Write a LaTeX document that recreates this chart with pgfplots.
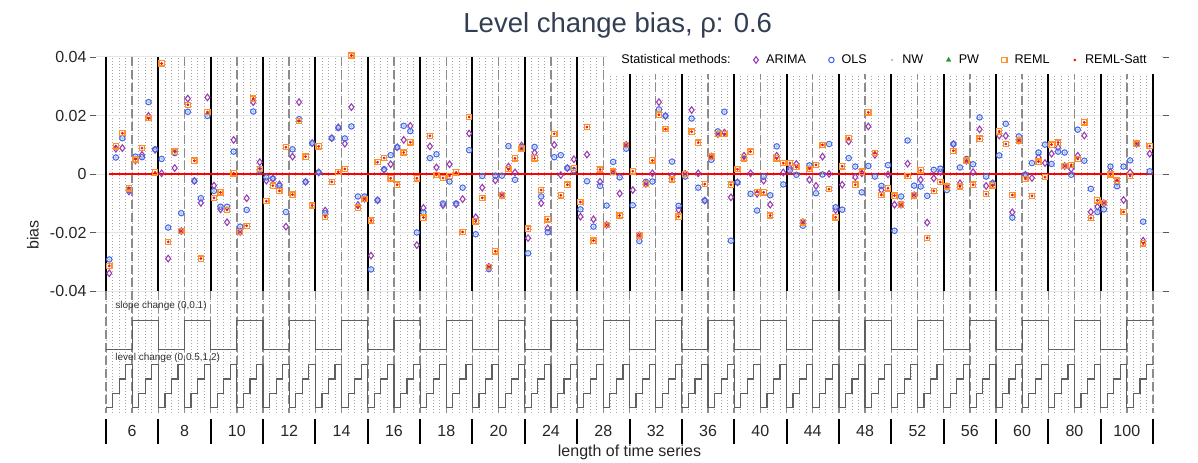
\documentclass[border=0pt]{standalone}
\usepackage{pgfplots}
\pgfplotsset{compat=1.18}
\usepackage{pgfplotstable}
\usepackage{fontspec}
\setmainfont{Liberation Sans}

\definecolor{cArima}{RGB}{155,60,180}
\definecolor{cOls}{RGB}{75,105,235}
\definecolor{cNw}{RGB}{160,200,235}
\definecolor{cPw}{RGB}{40,150,40}
\definecolor{cReml}{RGB}{255,145,40}
\definecolor{cSatt}{RGB}{235,25,25}
\definecolor{cDash}{RGB}{140,140,140}
\definecolor{cStep}{RGB}{95,95,95}
\definecolor{cTitle}{RGB}{50,62,82}

% x = scenario index, sc = slope change, lc = level change
\pgfplotstableread{
x sc lc arima ols reml
0 0 0 -0.0338 -0.0291 -0.0313
1 0 0.5 0.0087 0.0057 0.0095
2 0 1 0.0089 0.0123 0.0140
3 0 2 -0.0059 -0.0053 -0.0048
4 0.1 0 0.0047 0.0060 0.0051
5 0.1 0.5 0.0066 0.0058 0.0089
6 0.1 1 0.0199 0.0246 0.0191
7 0.1 2 0.0083 0.0085 0.0006
8 0 0 0.0003 0.0052 0.0378
9 0 0.5 -0.0288 -0.0182 -0.0231
10 0 1 0.0021 0.0072 0.0077
11 0 2 -0.0194 -0.0133 -0.0194
12 0.1 0 0.0258 0.0213 0.0237
13 0.1 0.5 -0.0023 -0.0023 0.0046
14 0.1 1 -0.0098 -0.0082 -0.0288
15 0.1 2 0.0262 0.0199 0.0212
16 0 0 -0.0039 -0.0057 -0.0081
17 0 0.5 -0.0120 -0.0111 -0.0062
18 0 1 -0.0164 -0.0111 -0.0122
19 0 2 0.0117 0.0077 0.0003
20 0.1 0 -0.0197 -0.0179 -0.0197
21 0.1 0.5 -0.0082 -0.0122 -0.0176
22 0.1 1 0.0246 0.0214 0.0258
23 0.1 2 0.0041 0.0013 0.0018
24 0 0 -0.0022 -0.0011 -0.0092
25 0 0.5 -0.0015 -0.0015 -0.0039
26 0 1 -0.0035 -0.0040 -0.0057
27 0 2 -0.0179 -0.0129 0.0092
28 0.1 0 0.0060 0.0085 -0.0070
29 0.1 0.5 0.0246 0.0188 0.0182
30 0.1 1 -0.0026 -0.0026 0.0060
31 0.1 2 0.0106 0.0106 -0.0107
32 0 0 0.0006 0.0006 0.0095
33 0 0.5 -0.0124 -0.0133 -0.0146
34 0 1 0.0123 0.0123 -0.0026
35 0 2 0.0160 0.0158 0.0008
36 0.1 0 0.0104 0.0122 0.0018
37 0.1 0.5 0.0229 0.0163 0.0405
38 0.1 1 -0.0105 -0.0076 -0.0114
39 0.1 2 -0.0084 -0.0076 -0.0084
40 0 0 -0.0278 -0.0325 -0.0158
41 0 0.5 -0.0089 -0.0089 0.0041
42 0 1 0.0015 0.0017 0.0055
43 0 2 0.0034 0.0065 -0.0014
44 0.1 0 0.0092 0.0092 -0.0036
45 0.1 0.5 0.0117 0.0165 0.0074
46 0.1 1 0.0165 0.0147 0.0109
47 0.1 2 -0.0242 -0.0199 -0.0014
48 0 0 -0.0115 -0.0131 -0.0148
49 0 0.5 0.0095 0.0055 0.0131
50 0 1 0.0023 0.0068 -0.0002
51 0 2 -0.0106 -0.0100 -0.0013
52 0.1 0 0.0034 -0.0025 -0.0006
53 0.1 0.5 -0.0103 -0.0100 0.0006
54 0.1 1 -0.0085 -0.0046 -0.0197
55 0.1 2 0.0139 0.0082 0.0195
56 0 0 -0.0147 -0.0205 -0.0161
57 0 0.5 -0.0046 -0.0006 -0.0081
58 0 1 -0.0316 -0.0324 -0.0316
59 0 2 -0.0021 -0.0005 -0.0263
60 0.1 0 -0.0072 -0.0005 -0.0072
61 0.1 0.5 0.0026 0.0096 0.0017
62 0.1 1 0.0006 -0.0019 0.0054
63 0.1 2 0.0098 0.0092 0.0088
64 0 0 -0.0218 -0.0270 -0.0186
65 0 0.5 0.0073 0.0093 0.0054
66 0 1 -0.0099 -0.0076 -0.0054
67 0 2 -0.0185 -0.0198 -0.0154
68 0.1 0 0.0100 0.0058 0.0138
69 0.1 0.5 -0.0003 0.0065 -0.0072
70 0.1 1 0.0021 0.0021 -0.0036
71 0.1 2 0.0051 0.0013 0.0021
72 0 0 -0.0145 -0.0120 -0.0095
73 0 0.5 0.0067 -0.0024 0.0161
74 0 1 -0.0154 -0.0179 -0.0227
75 0 2 -0.0026 -0.0040 0.0016
76 0.1 0 -0.0173 -0.0107 -0.0173
77 0.1 0.5 0.0009 0.0042 0.0009
78 0.1 1 -0.0066 -0.0011 -0.0141
79 0.1 2 0.0100 0.0087 0.0100
80 0 0 -0.0054 -0.0106 0.0010
81 0 0.5 -0.0209 -0.0228 -0.0209
82 0 1 -0.0033 -0.0026 -0.0033
83 0 2 0.0003 -0.0025 0.0047
84 0.1 0 0.0246 0.0221 0.0203
85 0.1 0.5 0.0199 0.0199 0.0154
86 0.1 1 -0.0006 0.0043 -0.0018
87 0.1 2 -0.0122 -0.0108 -0.0145
88 0 0 0.0001 -0.0008 0.0001
89 0 0.5 0.0219 0.0190 0.0145
90 0 1 0.0003 -0.0046 0.0108
91 0 2 -0.0090 -0.0090 -0.0034
92 0.1 0 0.0060 0.0049 0.0060
93 0.1 0.5 0.0137 0.0146 0.0137
94 0.1 1 0.0142 0.0213 0.0137
95 0.1 2 -0.0079 -0.0227 -0.0036
96 0 0 -0.0028 -0.0028 0.0017
97 0 0.5 0.0063 0.0052 0.0054
98 0 1 0.0003 -0.0067 0.0077
99 0 2 -0.0067 -0.0124 -0.0060
100 0.1 0 -0.0022 -0.0008 -0.0062
101 0.1 0.5 -0.0104 -0.0072 -0.0141
102 0.1 1 0.0063 0.0095 0.0054
103 0.1 2 0.0006 -0.0035 0.0038
104 0 0 0.0021 0.0013 0.0038
105 0 0.5 0.0035 -0.0002 0.0024
106 0 1 -0.0164 -0.0176 -0.0164
107 0 2 -0.0019 0.0030 0.0018
108 0.1 0 -0.0040 -0.0065 0.0032
109 0.1 0.5 0.0060 -0.0001 0.0100
110 0.1 1 0.0001 0.0103 -0.0051
111 0.1 2 -0.0122 -0.0113 -0.0147
112 0 0 -0.0036 -0.0121 0.0027
113 0 0.5 0.0112 0.0055 0.0123
114 0 1 -0.0010 0.0026 -0.0036
115 0 2 0.0003 -0.0062 0.0009
116 0.1 0 0.0163 0.0028 0.0211
117 0.1 0.5 0.0066 -0.0008 0.0072
118 0.1 1 -0.0054 -0.0040 -0.0071
119 0.1 2 -0.0001 0.0031 -0.0048
120 0 0 -0.0104 -0.0193 -0.0073
121 0 0.5 -0.0104 -0.0076 -0.0104
122 0 1 0.0036 0.0115 -0.0006
123 0 2 -0.0072 -0.0039 -0.0072
124 0.1 0 -0.0019 -0.0042 0.0013
125 0.1 0.5 -0.0165 -0.0074 -0.0217
126 0.1 1 -0.0014 0.0015 -0.0057
127 0.1 2 0.0008 0.0019 -0.0027
128 0 0 -0.0042 -0.0054 -0.0042
129 0 0.5 0.0103 0.0103 0.0080
130 0 1 -0.0031 0.0023 -0.0042
131 0 2 0.0046 0.0052 0.0046
132 0.1 0 0.0007 0.0034 -0.0036
133 0.1 0.5 0.0153 0.0194 0.0121
134 0.1 1 -0.0040 -0.0008 -0.0068
135 0.1 2 -0.0031 -0.0031 -0.0038
136 0 0 0.0132 0.0064 0.0146
137 0 0.5 0.0131 0.0172 0.0103
138 0 1 -0.0130 -0.0148 -0.0071
139 0 2 0.0115 0.0129 0.0115
140 0.1 0 -0.0002 -0.0002 -0.0016
141 0.1 0.5 -0.0013 0.0038 -0.0074
142 0.1 1 0.0058 0.0074 0.0043
143 0.1 2 0.0038 0.0101 -0.0010
144 0 0 0.0070 0.0035 0.0101
145 0 0.5 0.0091 0.0077 0.0108
146 0 1 0.0028 0.0074 0.0028
147 0 2 0.0018 -0.0002 0.0032
148 0.1 0 0.0063 0.0152 0.0052
149 0.1 0.5 0.0132 0.0046 0.0177
150 0.1 1 -0.0129 -0.0050 -0.0150
151 0.1 2 -0.0111 -0.0129 -0.0089
152 0 0 -0.0099 -0.0120 -0.0099
153 0 0.5 0.0008 0.0026 -0.0001
154 0 1 -0.0027 -0.0041 -0.0022
155 0 2 -0.0088 0.0026 -0.0129
156 0.1 0 0.0006 0.0047 -0.0006
157 0.1 0.5 0.0104 0.0104 0.0104
158 0.1 1 -0.0227 -0.0162 -0.0236
159 0.1 2 0.0070 0.0010 0.0096
}\biasdata

\begin{document}
\begin{tikzpicture}
\begin{axis}[
  name=ax,
  width=1067pt, height=356pt, scale only axis,
  xmin=-2.03, xmax=161.03,
  ymin=-0.0815, ymax=0.04,
  clip=false,
  axis line style={draw=none},
  scaled y ticks=false,
  xtick={3.5,11.5,...,155.5},
  xticklabels={6,8,10,12,14,16,18,20,24,28,32,36,40,44,48,52,56,60,80,100},
  xtick style={draw=none},
  xticklabel style={anchor=center, yshift=-12pt},
  minor xtick={-0.5,0.5,...,159.5},
  minor tick length=0pt,
  xminorgrids=true,
  minor x grid style={gray!70, line width=0.7pt, dash pattern=on 0.8pt off 2.2pt},
  ytick={-0.04,-0.02,0,0.02,0.04},
  yticklabels={-0.04,-0.02,0,0.02,0.04},
  ytick style={gray!70!black, line width=0.8pt},
  tick align=outside,
  major tick length=6pt,
  ymajorgrids=true,
  major y grid style={gray!20, line width=1pt},
  tick label style={font=\fontsize{16}{19}\selectfont, text=black!85},
  legend columns=-1,
  legend cell align=left,
  legend image code/.code={\draw[#1] plot coordinates {(0.18cm,0cm)}; \path (0cm,0cm) (0.46cm,0cm);},
  legend style={at={(rel axis cs:0.998,0.9916)}, anchor=east, draw=none, fill=white,
    font=\fontsize{12.6}{15}\selectfont, inner xsep=12pt, inner ysep=7pt,
    /tikz/every even column/.append style={column sep=18pt}},
]
% nested loop structure: half groups dashed, groups solid
\pgfplotsinvokeforeach{3.5,11.5,...,155.5}{
  \draw[cDash, line width=1.5pt, dash pattern=on 9pt off 4pt] (axis cs:#1,0.04) -- (axis cs:#1,-0.0815);
}
\pgfplotsinvokeforeach{-0.5,7.5,...,159.5}{
  \draw[cDash, line width=1.5pt, dash pattern=on 9pt off 4pt] (axis cs:#1,-0.04) -- (axis cs:#1,-0.0815);
  \draw[black, line width=2pt] (axis cs:#1,0.04) -- (axis cs:#1,-0.04);
  \draw[black, line width=2pt] (axis cs:#1,-0.0837) -- (axis cs:#1,-0.0922);
}

% step lines for the design parameters
\addplot[forget plot, const plot mark left, cStep, line width=1.2pt, no marks]
  table[x expr=\thisrow{x}-0.5, y expr=-0.0599+0.101*\thisrow{sc}] {\biasdata};
\addplot[forget plot, cStep, line width=1.2pt, no marks] coordinates {(158.5,-0.0498) (159.5,-0.0498)};
\addplot[forget plot, const plot mark left, cStep, line width=1.2pt, no marks]
  table[x expr=\thisrow{x}-0.5, y expr={ifthenelse(\thisrow{lc}>1.5,-0.0650,-0.0797+0.0098*\thisrow{lc})}] {\biasdata};
\addplot[forget plot, cStep, line width=1.2pt, no marks] coordinates {(158.5,-0.0650) (159.5,-0.0650)};

\node[anchor=west, font=\fontsize{10}{12}\selectfont, text=black!80] at (axis cs:0.4,-0.0449) {slope change (0,0.1)};
\node[anchor=west, font=\fontsize{10}{12}\selectfont, text=black!80] at (axis cs:0.4,-0.0627) {level change (0,0.5,1,2)};

% zero reference
\addplot[forget plot, red, line width=1.5pt] coordinates {(0,0) (159.5,0)};

\addlegendimage{empty legend}
\addlegendentry{Statistical methods:}
\addplot[only marks, mark=diamond, mark size=3.3pt, cArima, mark options={line width=1.1pt}]
  table[x=x, y=arima] {\biasdata};
\addlegendentry{ARIMA}
\addplot[only marks, mark=o, mark size=2.7pt, cOls, mark options={line width=1.1pt}]
  table[x=x, y=ols] {\biasdata};
\addlegendentry{OLS}
\addplot[only marks, mark=*, mark size=1.1pt, cNw]
  table[x=x, y=ols] {\biasdata};
\addlegendentry{NW}
\addlegendimage{only marks, mark=triangle*, mark size=2.6pt, cPw}
\addlegendentry{PW}
\addplot[only marks, mark=square, mark size=2.6pt, cReml, mark options={line width=1.3pt}]
  table[x=x, y=reml] {\biasdata};
\addlegendentry{REML}
\addplot[only marks, mark=*, mark size=1.2pt, cSatt]
  table[x=x, y=reml] {\biasdata};
\addlegendentry{REML-Satt}

\node[font=\fontsize{27.5}{32}\selectfont, text=cTitle] at ([yshift=32pt]rel axis cs:0.489,1) {Level change bias, ρ: 0.6};
\node[rotate=90, font=\fontsize{16}{19}\selectfont, text=black!85] at ([xshift=-63pt]rel axis cs:0,0.5) {bias};
\node[font=\fontsize{16}{19}\selectfont, text=black!85] at ([yshift=-39pt]rel axis cs:0.5,0) {length of time series};
\end{axis}
\pgfresetboundingbox
\path ([shift={(-96pt,-50pt)}]ax.south west) rectangle ([shift={(35pt,57pt)}]ax.north east);
\end{tikzpicture}
\end{document}
